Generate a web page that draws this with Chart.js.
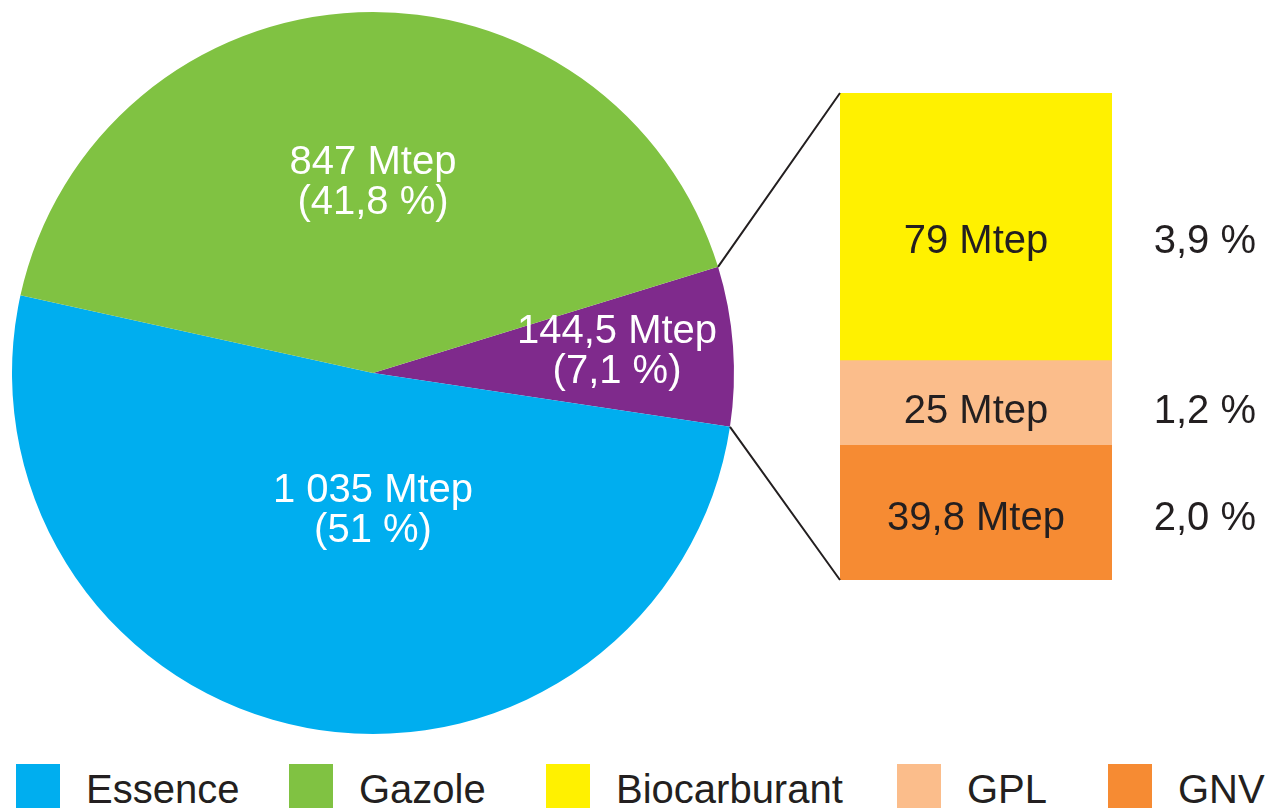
<!DOCTYPE html>
<html>
<head>
<meta charset="utf-8">
<script src="https://cdn.jsdelivr.net/npm/chart.js@4/dist/chart.umd.min.js"></script>
<style>
  html, body { margin: 0; padding: 0; background: #fff; overflow: hidden; }
  #wrap { position: relative; width: 1268px; height: 808px; font-family: "Liberation Sans", Arial, sans-serif; }
  #pie-box { position: absolute; left: 0; top: 0; width: 746px; height: 746px; }
  #bar-box { position: absolute; left: 700px; top: 0; width: 568px; height: 746px; }
  .lg-sq { position: absolute; top: 764px; width: 44px; height: 44px; }
  .lg-tx { position: absolute; top: 767px; height: 44px; line-height: 44px; font-size: 40px; color: #231f20; white-space: nowrap; }
</style>
</head>
<body>
<div id="wrap">
  <div id="pie-box"><canvas id="pie-chart"></canvas></div>
  <div id="bar-box"><canvas id="bar-chart"></canvas></div>
  <div id="legend"></div>
</div>
<script>
// pie: total consumption split
const pieLabels = ['Autres', 'Essence', 'Gazole'];
const pieValues = [144.5, 1035, 847];
const pieText = ['144,5 Mtep', '1 035 Mtep', '847 Mtep'];
const piePct = ['(7,1 %)', '(51 %)', '(41,8 %)'];
const pieColors = ['#7f2a8c', '#00aeef', '#80c242'];

// stacked bar: detail of "Autres" (bottom to top)
const barLabels = ['GNV', 'GPL', 'Biocarburant'];
const barValues = [39.8, 25, 79];
const barText = ['39,8 Mtep', '25 Mtep', '79 Mtep'];
const barPct = ['2,0 %', '1,2 %', '3,9 %'];
const barColors = ['#f68b33', '#fbbd8b', '#fff100'];

const legendLabels = ['Essence', 'Gazole', 'Biocarburant', 'GPL', 'GNV'];
const legendColors = ['#00aeef', '#80c242', '#fff100', '#fbbd8b', '#f68b33'];

const FONT = '"Liberation Sans", Arial, sans-serif';

// label position offsets in fractions of radius (layout only)
const pieLabelOffset = [[0.676, -0.06], [0, 0.38], [0, -0.53]];
// vertical nudge of the bar labels, px
const barLabelNudge = [6, 9, 15];

const pieLabelPlugin = {
  id: 'pieLabels',
  afterDatasetsDraw(chart) {
    const ctx = chart.ctx;
    const arcs = chart.getDatasetMeta(0).data;
    ctx.save();
    ctx.font = '40px ' + FONT;
    ctx.fillStyle = '#ffffff';
    ctx.textAlign = 'center';
    ctx.textBaseline = 'middle';
    arcs.forEach((arc, i) => {
      const r = arc.outerRadius;
      const x = arc.x + pieLabelOffset[i][0] * r;
      const y = arc.y + pieLabelOffset[i][1] * r;
      ctx.fillText(pieText[i], x, y - 19);
      ctx.fillText(piePct[i], x, y + 21);
    });
    ctx.restore();
  }
};

const pieChart = new Chart(document.getElementById('pie-chart').getContext('2d'), {
  type: 'pie',
  data: { labels: pieLabels, datasets: [{
    data: pieValues, backgroundColor: pieColors, borderWidth: 0,
  }] },
  options: {
    responsive: true, maintainAspectRatio: false, animation: false,
    rotation: 72.9,
    layout: { padding: 12 },
    plugins: { legend: { display: false }, tooltip: { enabled: false } },
  },
  plugins: [pieLabelPlugin],
});

const BAR_LEFT = 700; // offset of bar canvas vs pie canvas

const barExtrasPlugin = {
  id: 'barExtras',
  afterDatasetsDraw(chart) {
    const ctx = chart.ctx;
    const area = chart.chartArea;
    ctx.save();
    // segment labels
    ctx.font = '40px ' + FONT;
    ctx.fillStyle = '#231f20';
    ctx.textBaseline = 'middle';
    chart.data.datasets.forEach((ds, i) => {
      const bar = chart.getDatasetMeta(i).data[0];
      const cy = (bar.y + bar.base) / 2 + barLabelNudge[i];
      ctx.textAlign = 'center';
      ctx.fillText(barText[i], bar.x, cy);
      ctx.textAlign = 'right';
      ctx.fillText(barPct[i], area.right + 144, cy);
    });

    // connector lines from the "Autres" slice to the bar
    const arc = pieChart.getDatasetMeta(0).data[0];
    const top = chart.getDatasetMeta(2).data[0];
    const bottom = chart.getDatasetMeta(0).data[0];
    const bx = top.x - top.width / 2;
    const p1x = arc.x + arc.outerRadius * Math.cos(arc.startAngle) - BAR_LEFT;
    const p1y = arc.y + arc.outerRadius * Math.sin(arc.startAngle);
    const p2x = arc.x + arc.outerRadius * Math.cos(arc.endAngle) - BAR_LEFT;
    const p2y = arc.y + arc.outerRadius * Math.sin(arc.endAngle);
    ctx.strokeStyle = '#231f20';
    ctx.lineWidth = 2;
    ctx.beginPath();
    ctx.moveTo(p1x, p1y); ctx.lineTo(bx, top.y);
    ctx.moveTo(p2x, p2y); ctx.lineTo(bx, bottom.base);
    ctx.stroke();
    ctx.restore();
  }
};

const barTotal = barValues.reduce((a, b) => a + b, 0);

const barChart = new Chart(document.getElementById('bar-chart').getContext('2d'), {
  type: 'bar',
  data: {
    labels: ['Autres'],
    datasets: barLabels.map((l, i) => ({
      label: l, data: [barValues[i]], backgroundColor: barColors[i],
      borderWidth: 0, barPercentage: 1, categoryPercentage: 1,
    })),
  },
  options: {
    responsive: true, maintainAspectRatio: false, animation: false,
    layout: { padding: { left: 140, right: 156, top: 93, bottom: 166 } },
    plugins: { legend: { display: false }, tooltip: { enabled: false } },
    scales: {
      x: { stacked: true, display: false },
      y: { stacked: true, display: false, min: 0, max: barTotal },
    },
  },
  plugins: [barExtrasPlugin],
});

// legend
const legendX = [16, 289, 546, 897, 1108];
const legend = document.getElementById('legend');
legendLabels.forEach((l, i) => {
  const sq = document.createElement('div');
  sq.className = 'lg-sq';
  sq.style.left = legendX[i] + 'px';
  sq.style.background = legendColors[i];
  legend.appendChild(sq);
  const tx = document.createElement('div');
  tx.className = 'lg-tx';
  tx.style.left = (legendX[i] + 70) + 'px';
  tx.textContent = l;
  legend.appendChild(tx);
});
</script>
</body>
</html>
